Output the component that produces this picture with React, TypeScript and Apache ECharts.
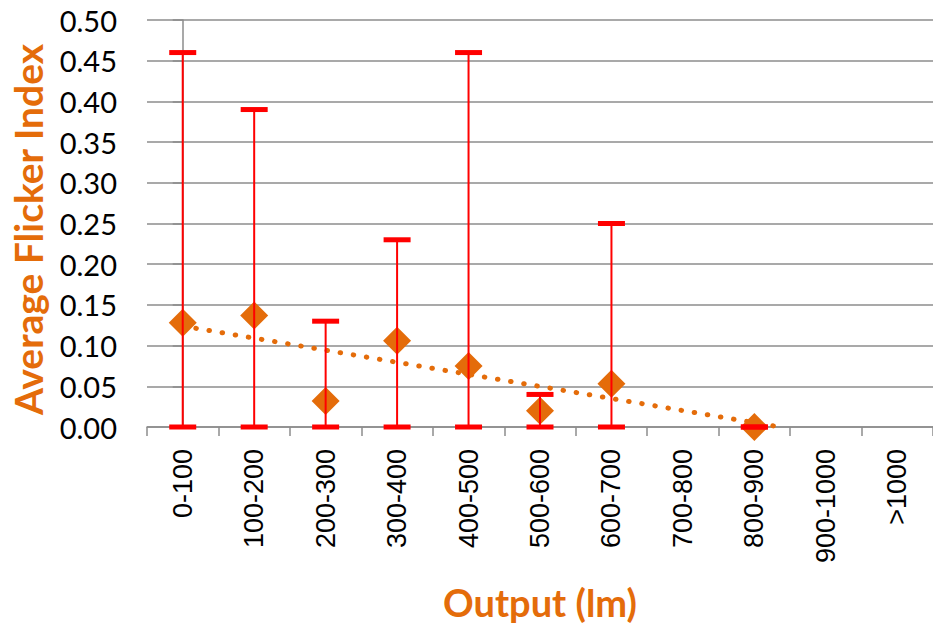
import React, { useEffect, useRef } from "react";
import * as echarts from "echarts";

const categories = ["0-100", "100-200", "200-300", "300-400", "400-500", "500-600", "600-700", "700-800", "800-900", "900-1000", ">1000"];
const meanValues: (number | null)[] = [0.128, 0.137, 0.032, 0.106, 0.075, 0.02, 0.053, null, 0.0, null, null];
const errorLow: (number | null)[] = [0, 0, 0, 0, 0, 0, 0, null, 0, null, null];
const errorHigh: (number | null)[] = [0.46, 0.39, 0.13, 0.23, 0.46, 0.04, 0.25, null, 0.0, null, null];
// trend line endpoints (category index, value)
const trendStart = [0, 0.124];
const trendEnd = [8.36, 0];

const ORANGE = "#E46C0A";
const RED = "#FF0000";
const GRID = "#8c8c8c";
const FONT = "Lato";

export default function App() {
  const ref = useRef<HTMLDivElement>(null);
  useEffect(() => {
    document.body.style.margin = "0";
    const chart = echarts.init(ref.current!, null, { renderer: "svg" });
    const errData = categories
      .map((c, i) => (errorHigh[i] === null ? null : [i, errorLow[i], errorHigh[i]]))
      .filter((d) => d !== null);
    chart.setOption({
      animation: false,
      backgroundColor: "#fff",
      grid: { left: 143, top: 20, width: 793, bottom: 201, containLabel: false },
      xAxis: [
        {
          type: "category",
          data: categories,
          boundaryGap: true,
          axisLine: { show: true, lineStyle: { color: GRID, width: 1.5 } },
          axisTick: { show: true, interval: 0, length: 9, lineStyle: { color: GRID, width: 1.5 } },
          axisLabel: { interval: 0, rotate: 90, margin: 22, color: "#000", fontSize: 27, fontFamily: "Liberation Sans" },
          splitLine: { show: false },
          name: "Output (lm)",
          nameLocation: "middle",
          nameGap: 156,
          nameTextStyle: { color: ORANGE, fontSize: 38, fontWeight: "bold", fontFamily: FONT },
        },
        {
          type: "value",
          min: -0.5,
          max: 10.5,
          show: false,
          position: "bottom",
        },
      ],
      yAxis: {
        type: "value",
        min: 0,
        max: 0.5,
        interval: 0.05,
        axisLine: { show: true, lineStyle: { color: GRID, width: 1.5 } },
        axisTick: { show: true, length: 10, lineStyle: { color: GRID, width: 1.5 } },
        axisLabel: { margin: 30, color: "#000", fontSize: 29, fontFamily: FONT, formatter: (v: number) => v.toFixed(2) },
        splitLine: { show: true, lineStyle: { color: GRID, width: 1.5 } },
        name: "Average Flicker Index",
        nameLocation: "middle",
        nameRotate: 90,
        nameGap: 100,
        nameTextStyle: { color: ORANGE, fontSize: 39, fontWeight: "bold", fontFamily: FONT, padding: [0, 12, 0, 0] },
      },
      series: [
        {
          type: "scatter",
          xAxisIndex: 0,
          data: meanValues,
          symbol: "diamond",
          symbolSize: [28, 28],
          itemStyle: { color: ORANGE, opacity: 1 },
          z: 2,
        },
        {
          type: "line",
          xAxisIndex: 1,
          data: [trendStart, trendEnd],
          showSymbol: false,
          lineStyle: { color: ORANGE, width: 5, type: [0.5, 12.8], cap: "round", opacity: 1 },
          z: 3,
        },
        {
          type: "custom",
          xAxisIndex: 0,
          data: errData,
          encode: { x: 0, y: [1, 2] },
          z: 4,
          renderItem: (params: any, api: any) => {
            const x = api.value(0);
            const lo = api.coord([x, api.value(1)]);
            const hi = api.coord([x, api.value(2)]);
            const half = 13.5;
            return {
              type: "group",
              children: [
                { type: "line", shape: { x1: lo[0], y1: lo[1], x2: hi[0], y2: hi[1] }, style: { stroke: RED, lineWidth: 2 } },
                { type: "line", shape: { x1: hi[0] - half, y1: hi[1], x2: hi[0] + half, y2: hi[1] }, style: { stroke: RED, lineWidth: 5 } },
                { type: "line", shape: { x1: lo[0] - half, y1: lo[1], x2: lo[0] + half, y2: lo[1] }, style: { stroke: RED, lineWidth: 5 } },
              ],
            };
          },
        },
      ],
    });
    return () => chart.dispose();
  }, []);
  return <div ref={ref} style={{ width: 933, height: 628 }} />;
}
